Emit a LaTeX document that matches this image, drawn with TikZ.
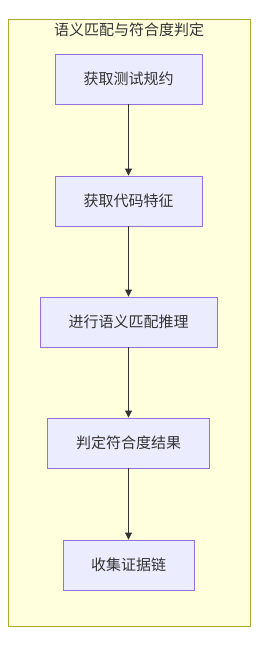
\documentclass[tikz,border=0pt]{standalone}
\usepackage{fontspec}
\setmainfont{Noto Sans CJK SC}
\usetikzlibrary{arrows.meta, positioning}
\definecolor{nodefill}{HTML}{ECECFF}
\definecolor{nodeline}{HTML}{9370DB}
\definecolor{clusterfill}{HTML}{FFFFDE}
\definecolor{clusterline}{HTML}{AAAA33}
\definecolor{txt}{HTML}{333333}

\begin{document}
\begin{tikzpicture}[
    x=1pt, y=-1pt,
    >={Triangle[length=7pt, width=7pt]},
    arr/.style={->, draw=txt, line width=0.9pt},
    box/.style={draw=nodeline, fill=nodefill, line width=0.9pt, minimum height=50pt, inner sep=0pt, font=\fontsize{15}{17}\selectfont, text=txt},
]
\useasboundingbox (0,0) rectangle (258,645);
% === Subgraph ===
\draw[draw=clusterline, fill=clusterfill, line width=0.9pt] (8,19) rectangle (250,626);
\node[text=txt, font=\fontsize{15}{17}\selectfont] (title) at (129,30) {语义匹配与符合度判定};
% === Steps ===
\node[box, minimum width=147pt] (spec) at (128.5,79) {获取测试规约};
\node[box, minimum width=147pt] (feat) at (128.5,201) {获取代码特征};
\node[box, minimum width=177pt] (infer) at (128.5,322) {进行语义匹配推理};
\node[box, minimum width=162pt] (judge) at (128.5,443) {判定符合度结果};
\node[box, minimum width=131pt] (chain) at (128.5,565) {收集证据链};
% === Edges ===
\draw[arr] (spec) -- (feat);
\draw[arr] (feat) -- (infer);
\draw[arr] (infer) -- (judge);
\draw[arr] (judge) -- (chain);
\end{tikzpicture}
\end{document}
